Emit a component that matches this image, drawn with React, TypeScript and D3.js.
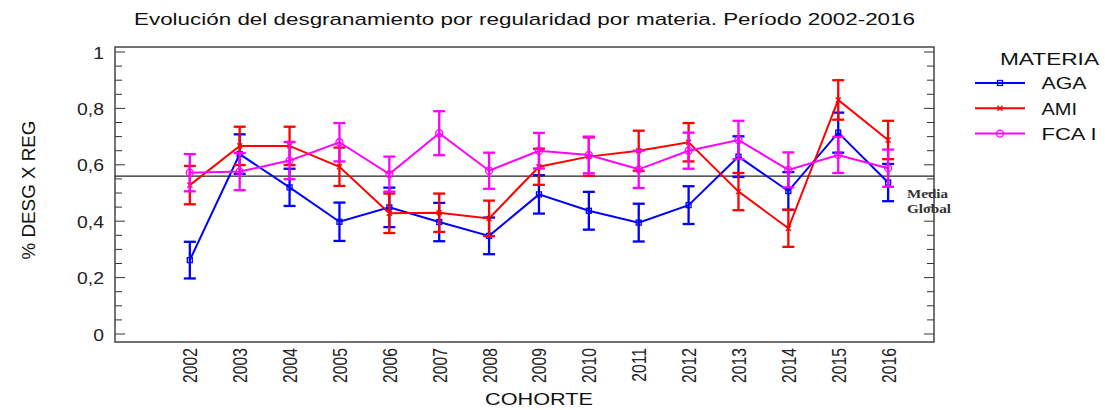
import React from "react";
import * as d3 from "d3";

const cohorts = [2002, 2003, 2004, 2005, 2006, 2007, 2008, 2009, 2010, 2011, 2012, 2013, 2014, 2015, 2016];
const agaValues = [0.262, 0.638, 0.52, 0.398, 0.449, 0.397, 0.348, 0.495, 0.437, 0.395, 0.457, 0.629, 0.507, 0.714, 0.537];
const agaErr = [0.065, 0.07, 0.066, 0.068, 0.07, 0.068, 0.065, 0.068, 0.067, 0.067, 0.067, 0.072, 0.067, 0.071, 0.066];
const amiValues = [0.528, 0.667, 0.667, 0.593, 0.428, 0.43, 0.41, 0.593, 0.629, 0.65, 0.68, 0.505, 0.375, 0.83, 0.688];
const amiErr = [0.068, 0.068, 0.068, 0.068, 0.07, 0.068, 0.063, 0.064, 0.068, 0.071, 0.068, 0.066, 0.066, 0.07, 0.068];
const fcaValues = [0.572, 0.576, 0.615, 0.68, 0.567, 0.712, 0.579, 0.65, 0.635, 0.584, 0.65, 0.688, 0.582, 0.635, 0.588];
const fcaErr = [0.066, 0.066, 0.066, 0.068, 0.062, 0.078, 0.064, 0.063, 0.065, 0.066, 0.064, 0.068, 0.062, 0.064, 0.066];
const mediaGlobal = 0.56;
const yTicks = [0, 0.2, 0.4, 0.6, 0.8, 1];
const yTickLabels = ["0", "0,2", "0,4", "0,6", "0,8", "1"];
const seriesNames = ["AGA", "AMI", "FCA I"];
const seriesColors = ["#0000ff", "#ff0000", "#ff00ff"];
const seriesMarkers = ["square", "cross", "circle"];

const W = 1105;
const H = 410;
const box = { left: 115, right: 934, top: 47, bottom: 342 };
const legendWidths = [45, 35.5, 55];

export default function App() {
  const x = d3.scaleLinear().domain([2000.5, 2016.92]).range([box.left, box.right]);
  const y = d3.scaleLinear().domain([0, 1]).range([334, 52]);
  const minor = d3.range(0, 1.0001, 0.05);
  const line = d3.line<[number, number]>().x((d) => x(d[0])).y((d) => y(d[1]));

  const series = [
    { values: agaValues, err: agaErr },
    { values: amiValues, err: amiErr },
    { values: fcaValues, err: fcaErr },
  ];

  const marker = (kind: string, cx: number, cy: number, color: string, key: any) => {
    if (kind === "square")
      return <rect key={key} x={cx - 2.5} y={cy - 2.5} width={5} height={5} fill="none" stroke={color} strokeWidth={1.3} />;
    if (kind === "cross")
      return (
        <path key={key} d={`M${cx - 2.5},${cy - 2.5}L${cx + 2.5},${cy + 2.5}M${cx - 2.5},${cy + 2.5}L${cx + 2.5},${cy - 2.5}`} stroke={color} strokeWidth={1.3} />
      );
    return <circle key={key} cx={cx} cy={cy} r={3.5} fill="none" stroke={color} strokeWidth={1.3} />;
  };

  return (
    <svg width={W} height={H} style={{ position: "absolute", left: 0, top: 0, background: "#fff" }} fontFamily="Arial, 'Liberation Sans', sans-serif">
      <rect x={0} y={0} width={W} height={H} fill="#fff" />
      <text x={134} y={25} fontSize={17} fill="#111" textLength={781} lengthAdjust="spacingAndGlyphs">
        Evolución del desgranamiento por regularidad por materia. Período 2002-2016
      </text>

      {/* ticks */}
      {minor.map((v, i) => {
        const major = i % 4 === 0;
        const len = major ? 10 : 7;
        return (
          <g key={"t" + i} stroke="#333" strokeWidth={1}>
            <line x1={box.left} x2={box.left + len} y1={y(v)} y2={y(v)} />
            <line x1={box.right} x2={box.right - len} y1={y(v)} y2={y(v)} />
          </g>
        );
      })}
      {yTicks.map((v, i) => (
        <text key={"yl" + i} transform={`translate(104,${y(v) + 6.5}) scale(1.14,1)`} textAnchor="end" fontSize={17} fill="#222">
          {yTickLabels[i]}
        </text>
      ))}
      <rect x={box.left} y={box.top} width={box.right - box.left} height={box.bottom - box.top} fill="none" stroke="#444" strokeWidth={1.5} />

      <text transform={`translate(35,190) rotate(-90)`} textAnchor="middle" fontSize={18.8} fill="#111">
        % DESG X REG
      </text>

      {cohorts.map((c, i) => (
        <text key={"xl" + i} transform={`translate(${x(c) + 7.5},348) scale(1.3,1) rotate(-90)`} textAnchor="end" fontSize={15.7} fill="#222">
          {c}
        </text>
      ))}
      <text x={485} y={405} fontSize={17} fill="#111" textLength={108} lengthAdjust="spacingAndGlyphs">
        COHORTE
      </text>

      {/* media global */}
      <line x1={box.left} x2={box.right} y1={y(mediaGlobal)} y2={y(mediaGlobal)} stroke="#222" strokeWidth={1.2} />
      <text x={907} y={198} fontSize={12.5} fontWeight="bold" fontFamily="'Liberation Serif', 'DejaVu Serif', serif" fill="#333" textLength={41} lengthAdjust="spacingAndGlyphs">Media</text>
      <text x={907} y={213} fontSize={12.5} fontWeight="bold" fontFamily="'Liberation Serif', 'DejaVu Serif', serif" fill="#333" textLength={44} lengthAdjust="spacingAndGlyphs">Global</text>

      {series.map((s, si) => {
        const color = seriesColors[si];
        const pts: [number, number][] = cohorts.map((c, i) => [c, s.values[i]]);
        return (
          <g key={"s" + si}>
            {cohorts.map((c, i) => {
              const cx = x(c);
              const y1 = y(s.values[i] + s.err[i]);
              const y2 = y(s.values[i] - s.err[i]);
              return (
                <g key={"e" + i} stroke={color} strokeWidth={2.3}>
                  <line x1={cx} x2={cx} y1={y1} y2={y2} />
                  <line x1={cx - 6} x2={cx + 6} y1={y1} y2={y1} />
                  <line x1={cx - 6} x2={cx + 6} y1={y2} y2={y2} />
                </g>
              );
            })}
            <path d={line(pts) || ""} fill="none" stroke={color} strokeWidth={2} />
            {cohorts.map((c, i) => marker(seriesMarkers[si], x(c), y(s.values[i]), color, "m" + i))}
          </g>
        );
      })}

      {/* legend */}
      <text x={1000} y={65} fontSize={16.5} fill="#111" textLength={99} lengthAdjust="spacingAndGlyphs">MATERIA</text>
      {seriesNames.map((n, i) => {
        const ly = 83 + i * 25.3;
        return (
          <g key={"lg" + i}>
            <line x1={975} x2={1025} y1={ly} y2={ly} stroke={seriesColors[i]} strokeWidth={2} />
            {marker(seriesMarkers[i], 1000, ly, seriesColors[i], "lm" + i)}
            <text x={1041.5} y={ly + 6.3} fontSize={16.7} fill="#111" textLength={legendWidths[i]} lengthAdjust="spacingAndGlyphs">{n}</text>
          </g>
        );
      })}
    </svg>
  );
}
